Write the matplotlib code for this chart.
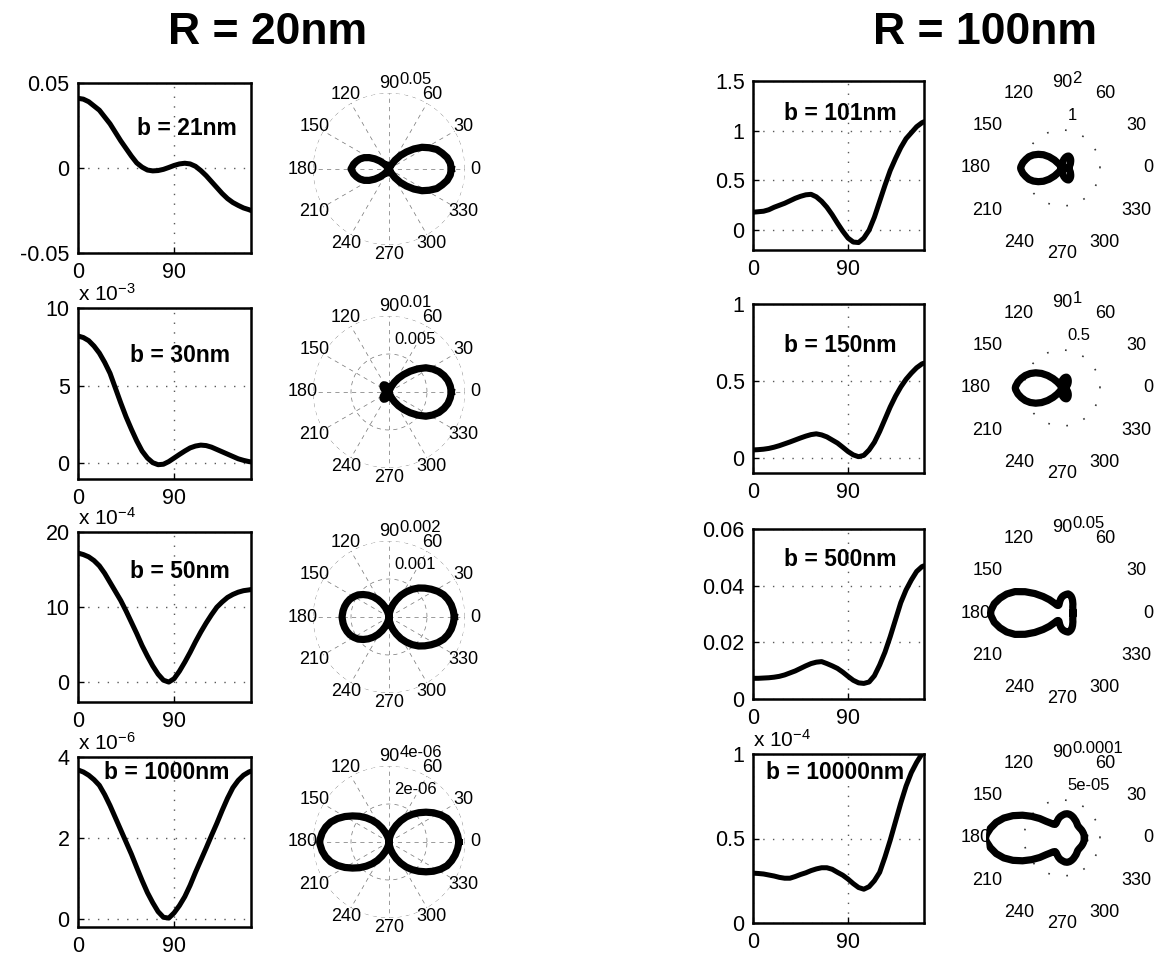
import numpy as np
import matplotlib.pyplot as plt

plt.rcParams['font.family'] = ['Liberation Sans', 'DejaVu Sans']
plt.rcParams['axes.unicode_minus'] = False
plt.rcParams['mathtext.default'] = 'regular'

# sample index along the x axis (162 samples cover 0..180 deg of scattering angle)
index = np.array(list(range(0, 161, 5)) + [162])
n_samples = 162

# R = 20nm column (values in the units of each y axis)
b21 = [0.041, 0.0405, 0.039, 0.0365, 0.034, 0.030, 0.026, 0.021, 0.016, 0.0115,
       0.007, 0.003, 0.0005, -0.0012, -0.0017, -0.0015, -0.0008, 0.0003, 0.0015, 0.0024,
       0.0028, 0.0024, 0.001, -0.0015, -0.0045, -0.008, -0.0115, -0.015, -0.018, -0.0203,
       -0.022, -0.0235, -0.0245, -0.025]
b30 = [8.2, 8.1, 7.9, 7.55, 7.1, 6.5, 5.8, 4.85, 3.9, 3.0,
       2.2, 1.45, 0.8, 0.35, 0.05, -0.08, -0.05, 0.12, 0.35, 0.58,
       0.8, 1.0, 1.12, 1.18, 1.15, 1.05, 0.9, 0.75, 0.6, 0.45,
       0.3, 0.2, 0.12, 0.1]                                            # x 1e-3
b50 = [17.2, 17.0, 16.7, 16.2, 15.5, 14.5, 13.3, 12.1, 10.9, 9.5,
       8.0, 6.5, 4.9, 3.5, 2.2, 1.1, 0.3, 0.05, 0.5, 1.5,
       2.7, 4.0, 5.4, 6.7, 7.9, 9.0, 10.0, 10.7, 11.3, 11.7,
       12.0, 12.2, 12.3, 12.35]                                        # x 1e-4
b1000 = [3.68, 3.63, 3.55, 3.44, 3.3, 3.07, 2.8, 2.5, 2.2, 1.9,
         1.6, 1.27, 0.95, 0.65, 0.4, 0.18, 0.04, 0.02, 0.15, 0.33,
         0.55, 0.83, 1.15, 1.45, 1.75, 2.06, 2.36, 2.68, 2.98, 3.24,
         3.42, 3.55, 3.63, 3.65]                                       # x 1e-6

# R = 100nm column
b101 = [0.18, 0.185, 0.19, 0.205, 0.23, 0.25, 0.27, 0.295, 0.32, 0.34,
        0.355, 0.36, 0.335, 0.29, 0.23, 0.155, 0.07, -0.01, -0.08, -0.12,
        -0.125, -0.08, 0.0, 0.13, 0.29, 0.45, 0.6, 0.72, 0.83, 0.92,
        0.98, 1.04, 1.08, 1.09]
b150 = [0.05, 0.052, 0.055, 0.06, 0.068, 0.078, 0.09, 0.102, 0.115, 0.128,
        0.14, 0.15, 0.155, 0.148, 0.135, 0.115, 0.095, 0.068, 0.04, 0.018,
        0.006, 0.015, 0.05, 0.1, 0.17, 0.25, 0.33, 0.4, 0.46, 0.51,
        0.55, 0.585, 0.61, 0.615]
b500 = [0.0073, 0.0073, 0.0074, 0.0075, 0.0077, 0.0080, 0.0085, 0.0092, 0.0099, 0.0108,
        0.0117, 0.0125, 0.013, 0.0132, 0.0125, 0.0117, 0.0108, 0.0095, 0.008, 0.0066,
        0.0057, 0.0055, 0.006, 0.0082, 0.012, 0.0165, 0.022, 0.028, 0.034, 0.0385,
        0.042, 0.045, 0.0467, 0.047]
b10000 = [0.295, 0.293, 0.29, 0.284, 0.278, 0.27, 0.265, 0.265, 0.275, 0.287,
          0.297, 0.31, 0.32, 0.327, 0.327, 0.318, 0.3, 0.283, 0.26, 0.233,
          0.21, 0.2, 0.215, 0.25, 0.3, 0.39, 0.49, 0.6, 0.71, 0.81,
          0.89, 0.95, 1.0, 1.01]                                       # x 1e-4

left_series = [b21, b30, b50, b1000]
right_series = [b101, b150, b500, b10000]
left_names = ['b = 21nm', 'b = 30nm', 'b = 50nm', 'b = 1000nm']
right_names = ['b = 101nm', 'b = 150nm', 'b = 500nm', 'b = 10000nm']
left_scale = [1, 1e-3, 1e-4, 1e-6]
right_scale = [1, 1, 1, 1e-4]
left_exp = [None, '-3', '-4', '-6']
right_exp = [None, None, None, '-4']

left_yticks = [[-0.05, 0, 0.05], [0, 5, 10], [0, 10, 20], [0, 2, 4]]
left_ylabels = [['-0.05', '0', '0.05'], ['0', '5', '10'], ['0', '10', '20'], ['0', '2', '4']]
left_ylim = [(-0.05, 0.05), (-1.0, 10), (-2.6, 20), (-0.2, 4)]
right_yticks = [[0, 0.5, 1, 1.5], [0, 0.5, 1], [0, 0.02, 0.04, 0.06], [0, 0.5, 1]]
right_ylabels = [['0', '0.5', '1', '1.5'], ['0', '0.5', '1'],
                 ['0', '0.02', '0.04', '0.06'], ['0', '0.5', '1']]
right_ylim = [(-0.2, 1.5), (-0.1, 1), (0, 0.06), (0, 1)]

left_rings = [[0.05], [0.005, 0.01], [0.001, 0.002], [2e-6, 4e-6]]
left_ring_labels = [['0.05'], ['0.005', '0.01'], ['0.001', '0.002'], ['2e-06', '4e-06']]
right_rings = [[1, 2], [0.5, 1], [0.05], [5e-5, 1e-4]]
right_ring_labels = [['1', '2'], ['0.5', '1'], ['0.05'], ['5e-05', '0.0001']]

spokes = np.arange(0, 360, 30)

W, H = 1166, 958
fig = plt.figure(figsize=(W / 100, H / 100), dpi=100)


def rect(x0, x1, ytop, ybot):
    return [x0 / W, 1 - ybot / H, (x1 - x0) / W, (ybot - ytop) / H]


def cart(box, vals, name, tpos, yt, yl, ylim, exp):
    ax = fig.add_axes(rect(*box))
    ax.plot(index, vals, color='k', lw=3.6, solid_joinstyle='round', solid_capstyle='round')
    ax.set_xlim(0, n_samples)
    ax.set_ylim(*ylim)
    ax.set_xticks([0, 90])
    ax.set_xticklabels(['0', '90'])
    ax.set_yticks(yt)
    ax.set_yticklabels(yl)
    ax.tick_params(direction='in', length=4, width=1, labelsize=15.5)
    ax.tick_params(axis='y', pad=6)
    ax.tick_params(axis='x', pad=6.5)
    ax.grid(True, color='0.35', linestyle=(0, (1, 6)), lw=1)
    for s in ax.spines.values():
        s.set_linewidth(1.8)
    ax.text(tpos[0], tpos[1], name, transform=ax.transAxes, ha='center', va='center',
            fontsize=16.5, fontweight='bold')
    if exp:
        ax.text(0.0, 1.02, 'x 10$^{' + exp + '}$', transform=ax.transAxes,
                ha='left', va='bottom', fontsize=15)
    return ax


def polar(cx, cy, vals, scale, rings, ring_labels, full_grid):
    rmax = rings[-1]
    ax = fig.add_axes(rect(cx - 76, cx + 76, cy - 76, cy + 76), projection='polar')
    ax.patch.set_visible(False)
    ax.spines['polar'].set_visible(False)
    ax.grid(False)
    ax.set_xticks([])
    ax.set_yticks([])
    ring_t = np.linspace(0, 2 * np.pi, 240)
    if full_grid:
        for a in spokes:
            ax.plot([np.radians(a)] * 2, [0, rmax], color='0.45', lw=0.5,
                    linestyle=(0, (6, 6)))
        for r in rings:
            ax.plot(ring_t, [r] * len(ring_t), color='0.45', lw=0.5, linestyle=(0, (6, 6)))
    else:
        for r in rings[:-1]:
            ax.plot(ring_t, [r] * len(ring_t), color='0.2', lw=1.2, linestyle=(0, (1, 10)))
    # the same curve, |value| against scattering angle, mirrored below the axis
    ang = np.radians(index * 180.0 / n_samples)
    v = np.abs(np.asarray(vals) * scale)
    th = np.concatenate([ang, 2 * np.pi - ang[::-1][1:]])
    rr = np.concatenate([v, v[::-1][1:]])
    ax.plot(th, rr, color='k', lw=5.2, solid_joinstyle='round')
    for a in spokes:
        ax.text(np.radians(a), 1.13 * rmax, str(a), ha='center', va='center',
                fontsize=13, clip_on=False)
    for r, lab in zip(rings, ring_labels):
        ax.annotate(lab, xy=(np.radians(82), r), xytext=(0, 5), textcoords='offset points',
                    ha='left', va='bottom', fontsize=12, annotation_clip=False)
    ax.set_ylim(0, rmax)
    return ax


left_boxes = [(78, 251, 83, 253), (78, 251, 308, 479), (78, 251, 532, 702), (78, 251, 757, 927)]
right_boxes = [(753, 924, 81, 250), (753, 924, 304, 473), (753, 924, 529, 699), (753, 924, 754, 923)]
left_tpos = [(0.63, 0.735), (0.587, 0.725), (0.586, 0.766), (0.513, 0.906)]
right_tpos = [(0.51, 0.81), (0.51, 0.757), (0.51, 0.82), (0.48, 0.89)]
left_pc = [(389, 169), (389, 392), (389, 617), (389, 842)]
right_pc = [(1062, 168), (1062, 388), (1062, 613), (1062, 838)]

for i in range(4):
    cart(left_boxes[i], left_series[i], left_names[i], left_tpos[i], left_yticks[i],
         left_ylabels[i], left_ylim[i], left_exp[i])
    polar(*left_pc[i], left_series[i], left_scale[i], left_rings[i], left_ring_labels[i], True)
    cart(right_boxes[i], right_series[i], right_names[i], right_tpos[i], right_yticks[i],
         right_ylabels[i], right_ylim[i], right_exp[i])
    polar(*right_pc[i], right_series[i], right_scale[i], right_rings[i], right_ring_labels[i], False)

fig.text(268 / W, 1 - 32 / H, 'R = 20nm', ha='center', va='center', fontsize=32, fontweight='bold')
fig.text(985 / W, 1 - 32 / H, 'R = 100nm', ha='center', va='center', fontsize=32, fontweight='bold')

fig.savefig('out.png', dpi=100, facecolor='white')
